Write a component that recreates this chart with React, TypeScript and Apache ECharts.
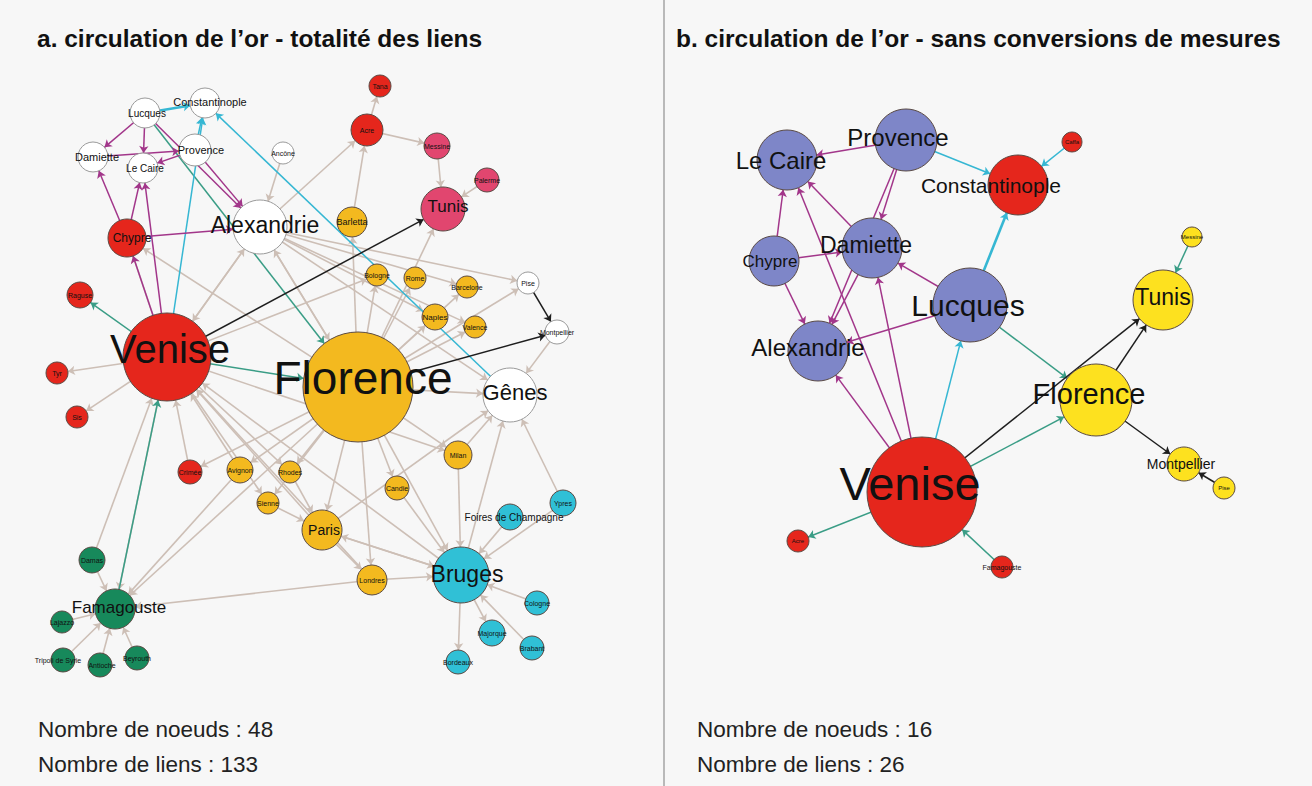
import React, { useEffect, useRef } from "react";
import * as echarts from "echarts";

// ---------- Panel A : circulation de l'or - totalité des liens ----------
const namesA = [
  "Venise", "Florence", "Alexandrie", "Gênes", "Bruges", "Famagouste", "Tunis", "Chypre", "Paris",
  "Lucques", "Constantinople", "Damiette", "Provence", "Le Caire", "Ancône", "Tana", "Acre", "Messine",
  "Palerme", "Barletta", "Raguse", "Tyr", "Sis", "Crimée", "Avignon", "Rhodes", "Bologne", "Rome",
  "Barcelone", "Pise", "Naples", "Valence", "Montpellier", "Milan", "Sienne", "Candie", "Londres",
  "Foires de Champagne", "Ypres", "Cologne", "Majorque", "Brabant", "Bordeaux", "Damas", "Lajazzo",
  "Tripoli de Syrie", "Antioche", "Beyrouth",
];
// layout coordinates of the network (graph layout units)
const layoutXA = [167, 358, 260, 510, 461, 115, 443, 127, 322, 145, 205, 93, 195, 143, 283, 380, 367, 437, 487, 352, 80, 57, 77, 190, 240, 290, 377, 415, 467, 528, 435, 475, 557, 458, 268, 397, 372, 510, 563, 537, 492, 532, 458, 92, 62, 63, 100, 137];
const layoutYA = [357, 387, 227, 395, 575, 609, 209, 238, 530, 113, 103, 157, 150, 168, 153, 86, 130, 146, 180, 222, 295, 373, 417, 472, 470, 472, 275, 278, 287, 283, 317, 327, 332, 455, 503, 488, 580, 517, 503, 603, 633, 648, 662, 560, 622, 660, 665, 658];
// node weight (drawn as diameter)
const weightA = [88, 110, 54, 54, 56, 40, 44, 38, 40, 30, 30, 30, 32, 30, 22, 22, 32, 26, 24, 30, 26, 22, 22, 24, 26, 22, 22, 22, 22, 22, 26, 22, 24, 28, 22, 24, 30, 26, 26, 24, 26, 24, 24, 26, 22, 24, 24, 24];
const groupA = [
  "red", "yellow", "white", "white", "cyan", "green", "pink", "red", "yellow",
  "white", "white", "white", "white", "white", "white", "red", "red", "pink",
  "pink", "yellow", "red", "red", "red", "red", "yellow", "yellow", "yellow", "yellow",
  "yellow", "white", "yellow", "yellow", "white", "yellow", "yellow", "yellow", "yellow",
  "cyan", "cyan", "cyan", "cyan", "cyan", "cyan", "green", "green",
  "green", "green", "green",
];
// [source, target, kind]  kind: g gray, p purple, c cyan, t teal, k black
const linksA: [string, string, string][] = [
  ["Acre", "Tana", "g"], ["Barletta", "Acre", "g"], ["Acre", "Messine", "g"], ["Messine", "Tunis", "g"],
  ["Palerme", "Tunis", "g"], ["Ancône", "Alexandrie", "g"], ["Alexandrie", "Acre", "g"], ["Florence", "Tunis", "g"],
  ["Florence", "Barletta", "g"], ["Florence", "Gênes", "g"], ["Florence", "Bologne", "g"], ["Florence", "Rome", "g"],
  ["Florence", "Naples", "g"], ["Florence", "Valence", "g"], ["Florence", "Barcelone", "g"], ["Florence", "Milan", "g"],
  ["Florence", "Candie", "g"], ["Florence", "Paris", "g"], ["Florence", "Londres", "g"], ["Florence", "Bruges", "g"],
  ["Florence", "Avignon", "g"], ["Florence", "Rhodes", "g"], ["Florence", "Sienne", "g"], ["Florence", "Crimée", "g"],
  ["Alexandrie", "Florence", "g"], ["Florence", "Alexandrie", "g"], ["Florence", "Chypre", "g"], ["Florence", "Pise", "g"],
  ["Florence", "Famagouste", "g"], ["Venise", "Tyr", "g"], ["Venise", "Sis", "g"], ["Venise", "Alexandrie", "g"],
  ["Venise", "Bologne", "g"], ["Crimée", "Venise", "g"], ["Avignon", "Venise", "g"], ["Paris", "Venise", "g"],
  ["Bruges", "Venise", "g"], ["Londres", "Venise", "g"], ["Venise", "Famagouste", "g"], ["Damas", "Venise", "g"],
  ["Venise", "Rhodes", "g"], ["Venise", "Sienne", "g"], ["Alexandrie", "Gênes", "g"], ["Alexandrie", "Pise", "g"],
  ["Alexandrie", "Naples", "g"], ["Alexandrie", "Barcelone", "g"], ["Alexandrie", "Valence", "g"], ["Montpellier", "Gênes", "g"],
  ["Milan", "Gênes", "g"], ["Bruges", "Gênes", "g"], ["Ypres", "Gênes", "g"], ["Paris", "Gênes", "g"],
  ["Paris", "Bruges", "g"], ["Londres", "Bruges", "g"], ["Candie", "Bruges", "g"], ["Foires de Champagne", "Bruges", "g"],
  ["Ypres", "Bruges", "g"], ["Cologne", "Bruges", "g"], ["Bruges", "Majorque", "g"], ["Bruges", "Bordeaux", "g"],
  ["Brabant", "Bruges", "g"], ["Milan", "Bruges", "g"], ["Bruges", "Paris", "g"], ["Londres", "Famagouste", "g"],
  ["Avignon", "Famagouste", "g"], ["Damas", "Famagouste", "g"], ["Lajazzo", "Famagouste", "g"], ["Tripoli de Syrie", "Famagouste", "g"],
  ["Antioche", "Famagouste", "g"], ["Beyrouth", "Famagouste", "g"], ["Paris", "Londres", "g"], ["Sienne", "Paris", "g"],
  ["Rhodes", "Paris", "g"], ["Venise", "Milan", "g"], ["Alexandrie", "Venise", "g"], ["Venise", "Chypre", "g"],
  ["Lucques", "Damiette", "p"], ["Lucques", "Le Caire", "p"], ["Lucques", "Alexandrie", "p"], ["Provence", "Alexandrie", "p"],
  ["Provence", "Le Caire", "p"], ["Damiette", "Provence", "p"], ["Chypre", "Damiette", "p"], ["Chypre", "Le Caire", "p"],
  ["Chypre", "Alexandrie", "p"], ["Venise", "Le Caire", "p"], ["Venise", "Chypre", "p"],
  ["Provence", "Constantinople", "c"], ["Venise", "Constantinople", "c"], ["Gênes", "Constantinople", "c"], ["Lucques", "Constantinople", "c"],
  ["Lucques", "Florence", "t"], ["Venise", "Florence", "t"], ["Venise", "Raguse", "t"], ["Famagouste", "Venise", "t"],
  ["Venise", "Tunis", "k"], ["Florence", "Montpellier", "k"], ["Pise", "Montpellier", "k"],
];

// ---------- Panel B : sans conversions de mesures ----------
const namesB = [
  "Venise", "Florence", "Lucques", "Le Caire", "Provence", "Constantinople", "Caffa", "Chypre",
  "Damiette", "Alexandrie", "Acre", "Famagouste", "Tunis", "Messine", "Montpellier", "Pise",
];
const layoutXB = [922, 1096, 970, 787, 906, 1018, 1072, 774, 872, 818, 798, 1002, 1163, 1192, 1184, 1224];
const layoutYB = [492, 400, 305, 160, 140, 185, 142, 261, 248, 351, 541, 567, 300, 237, 464, 488];
const weightB = [110, 72, 74, 60, 62, 60, 20, 50, 60, 60, 22, 22, 60, 20, 34, 22];
const groupB = [
  "red", "gold", "blue", "blue", "blue", "red", "red", "blue",
  "blue", "blue", "red", "red", "gold", "gold", "gold", "gold",
];
const linksB: [string, string, string][] = [
  ["Provence", "Le Caire", "p"], ["Provence", "Damiette", "p"], ["Provence", "Alexandrie", "p"],
  ["Damiette", "Le Caire", "p"], ["Chypre", "Le Caire", "p"], ["Chypre", "Damiette", "p"],
  ["Chypre", "Alexandrie", "p"], ["Damiette", "Alexandrie", "p"], ["Lucques", "Damiette", "p"],
  ["Lucques", "Alexandrie", "p"], ["Venise", "Le Caire", "p"], ["Venise", "Damiette", "p"],
  ["Venise", "Alexandrie", "p"], ["Lucques", "Constantinople", "c"], ["Provence", "Constantinople", "c"],
  ["Caffa", "Constantinople", "c"], ["Venise", "Lucques", "c"], ["Lucques", "Florence", "t"],
  ["Venise", "Florence", "t"], ["Venise", "Acre", "t"], ["Famagouste", "Venise", "t"],
  ["Messine", "Tunis", "t"], ["Venise", "Tunis", "k"], ["Florence", "Tunis", "k"],
  ["Florence", "Montpellier", "k"], ["Pise", "Montpellier", "k"],
];

const titleA = "a. circulation de l’or - totalité des liens";
const titleB = "b. circulation de l’or - sans conversions de mesures";
const statsA = ["Nombre de noeuds : 48", "Nombre de liens : 133"];
const statsB = ["Nombre de noeuds : 16", "Nombre de liens : 26"];

// ---------- styles ----------
const FONT = "Arial, 'Liberation Sans', Helvetica, sans-serif";
const nodeColors: Record<string, string> = {
  red: "#e5261c", yellow: "#f3b91f", white: "#ffffff", pink: "#e1466f", cyan: "#30c0d6",
  green: "#17895b", blue: "#7e86c8", gold: "#fde11f",
};
const linkColors: Record<string, string> = {
  g: "#cdbfb6", p: "#a2368a", c: "#36b7d3", t: "#3a9d86", k: "#1e1e1e",
};
const labelA: Record<string, [number, number, number]> = {
  Venise: [40, 3, -8], Florence: [46, 5, -9], Alexandrie: [23, 5, -2], "Gênes": [22, 5, -3],
  Bruges: [23, 6, -1], Famagouste: [17, 4, -2], Tunis: [17, 5, -3], Chypre: [12, 5, 0], Paris: [14, 2, 0],
  Lucques: [10, 2, 0], Constantinople: [11, 5, -1], Damiette: [11, 4, 0], Provence: [11, 6, 0], "Le Caire": [10, 2, 0],
  "Foires de Champagne": [10, 4, 0], "Tripoli de Syrie": [7, -5, 0], Barletta: [9, 0, 0], Naples: [8, 0, 0],
  Antioche: [7, 2, 0],
};
const labelB: Record<string, [number, number, number]> = {
  Venise: [47, -12, -9], Florence: [29, -7, -6], Lucques: [30, -2, 0], "Le Caire": [24, -6, 0],
  Provence: [24, -8, -3], Constantinople: [21, -27, 0], Chypre: [17, -4, 0], Damiette: [23, -6, -3],
  Alexandrie: [24, -10, -4], Tunis: [23, 0, -3], Montpellier: [14, -3, 0], Famagouste: [7, 0, 0],
};

function buildNodes(names: string[], xs: number[], ys: number[], w: number[], g: string[], lab: Record<string, [number, number, number]>, smallFs: number) {
  return names.map((n, i) => {
    const l = lab[n] || [smallFs, 0, 0];
    return {
      name: n,
      value: [xs[i], ys[i]],
      symbolSize: w[i],
      itemStyle: {
        color: nodeColors[g[i]],
        borderColor: g[i] === "white" ? "#9a9a9a" : "#5a4a44",
        borderWidth: 1,
      },
      label: {
        show: true,
        position: "inside",
        fontSize: l[0],
        offset: [l[1], l[2]],
        color: "#111",
        fontFamily: FONT,
      },
    };
  });
}

function buildLinks(links: [string, string, string][]) {
  const order = ["g", "t", "c", "p", "k"];
  return [...links]
    .sort((a, b) => order.indexOf(a[2]) - order.indexOf(b[2]))
    .map(([s, t, k]) => ({
      source: s,
      target: t,
      lineStyle: {
        color: linkColors[k],
        width: k === "g" ? 1.6 : k === "c" && s === "Lucques" && t === "Constantinople" ? 2.6 : 1.5,
        opacity: 1,
        curveness: 0,
      },
    }));
}

export default function App() {
  const ref = useRef<HTMLDivElement>(null);
  useEffect(() => {
    if (!ref.current) return;
    const chart = echarts.init(ref.current, null, { renderer: "svg" });
    const graphSeries = (nodes: any[], links: any[]) => ({
      type: "graph",
      coordinateSystem: "cartesian2d",
      xAxisIndex: 0,
      yAxisIndex: 0,
      silent: true,
      edgeSymbol: ["none", "arrow"],
      edgeSymbolSize: [0, 7],
      data: nodes,
      links,
      emphasis: { disabled: true },
    });
    chart.setOption({
      animation: false,
      backgroundColor: "#f7f7f7",
      grid: { left: 0, top: 0, width: 1312, height: 786, containLabel: false },
      xAxis: { type: "value", min: 0, max: 1312, show: false },
      yAxis: { type: "value", min: 0, max: 786, inverse: true, show: false },
      graphic: [
        { type: "line", shape: { x1: 664, y1: 0, x2: 664, y2: 786 }, style: { stroke: "#b9b9b9", lineWidth: 2 } },
        { type: "text", x: 37, y: 38, style: { text: titleA, font: `bold 24.5px ${FONT}`, fill: "#111", verticalAlign: "middle" } },
        { type: "text", x: 676, y: 38, style: { text: titleB, font: `bold 24.5px ${FONT}`, fill: "#111", verticalAlign: "middle" } },
        { type: "text", x: 38, y: 729, style: { text: statsA[0], font: `22.5px ${FONT}`, fill: "#222", verticalAlign: "middle" } },
        { type: "text", x: 38, y: 764, style: { text: statsA[1], font: `22.5px ${FONT}`, fill: "#222", verticalAlign: "middle" } },
        { type: "text", x: 697, y: 729, style: { text: statsB[0], font: `22.5px ${FONT}`, fill: "#222", verticalAlign: "middle" } },
        { type: "text", x: 697, y: 764, style: { text: statsB[1], font: `22.5px ${FONT}`, fill: "#222", verticalAlign: "middle" } },
      ],
      series: [
        graphSeries(buildNodes(namesA, layoutXA, layoutYA, weightA, groupA, labelA, 7), buildLinks(linksA)),
        graphSeries(buildNodes(namesB, layoutXB, layoutYB, weightB, groupB, labelB, 6), buildLinks(linksB)),
      ],
    });
    return () => chart.dispose();
  }, []);
  return <div ref={ref} style={{ position: "absolute", left: 0, top: 0, width: 1312, height: 786 }} />;
}
